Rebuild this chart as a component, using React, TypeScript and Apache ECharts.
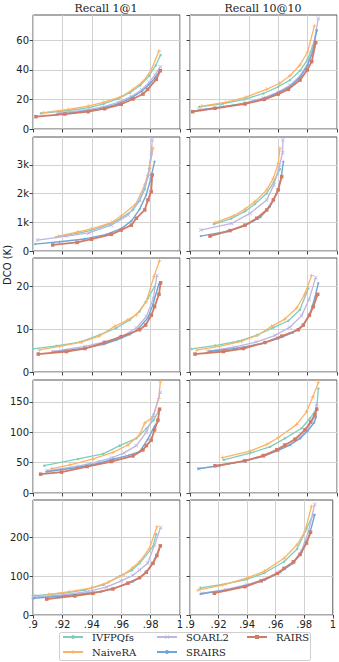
import React, { useEffect, useRef } from 'react';
import * as echarts from 'echarts';

const SERIES_NAMES = ['IVFPQfs', 'NaiveRA', 'SOARL2', 'SRAIRS', 'RAIRS'];
const COLORS = ['#7fcdbb', '#fdb366', '#bdb6df', '#6fa6d6', '#d17a66'];
const COL_TITLES = ['Recall 1@1', 'Recall 10@10'];
const Y_LABEL = 'DCO (K)';
const Y_MAX = [77, 3970, 26.7, 186, 296];
const Y_STEP = [20, 1000, 10, 50, 100];

// Row 1
const r1L_IVF = [[.9054,10.6],[.924,12.5],[.938,14.5],[.948,17],[.958,20.5],[.966,24.5],[.973,29.5],[.979,36],[.9835,43],[.9868,50]];
const r1L_NAIVE = [[.907,11],[.924,13.3],[.9375,15.5],[.9477,18],[.960,21.8],[.968,26.8],[.9748,32],[.9805,40],[.9857,52.7]];
const r1L_SOAR = [[.917,10.8],[.934,12.5],[.947,14.8],[.958,18],[.967,22],[.974,26.5],[.979,31.5],[.983,36.5],[.9866,42]];
const r1L_SRAIRS = [[.916,9.8],[.932,11.5],[.946,13.8],[.958,17],[.967,21],[.974,25.5],[.979,30],[.983,34.5],[.986,38.7]];
const r1L_RAIRS = [[.902,8.3],[.9217,10.1],[.9375,11.7],[.9488,13.7],[.960,16.7],[.968,20.3],[.9748,23.6],[.978,26.8],[.9839,33.6],[.9866,39.4]];

const r1R_IVF = [[.9063,15],[.922,17],[.937,20],[.950,24],[.960,28.5],[.968,33],[.975,39.5],[.980,47],[.9835,56],[.9862,66.4]];
const r1R_NAIVE = [[.908,15.5],[.924,18],[.938,21.5],[.952,26.8],[.961,30.9],[.968,36],[.9748,43.2],[.980,52],[.9846,69.6]];
const r1R_SOAR = [[.906,13],[.922,15],[.937,17.5],[.950,21],[.960,25],[.968,29.5],[.975,36],[.980,44],[.984,56],[.9873,74.8]];
const r1R_SRAIRS = [[.9018,12],[.917,14.2],[.9374,17.2],[.9506,20.5],[.960,24.5],[.968,28.5],[.975,35],[.980,43],[.9835,52],[.9862,67]];
const r1R_RAIRS = [[.9018,11.7],[.917,14],[.9374,16.9],[.9506,20],[.960,23.6],[.9669,26.8],[.9748,33],[.9798,39.9],[.9828,45.5],[.9855,58.3]];

// Row 2
const r2L_IVF = [[.9156,480],[.930,610],[.940,720],[.9533,950],[.960,1150],[.968,1430],[.9725,1750],[.976,2150],[.9785,2650],[.9804,3400]];
const r2L_NAIVE = [[.9172,520],[.9307,670],[.9398,770],[.9533,990],[.960,1220],[.9703,1660],[.976,2300],[.9793,2880],[.9816,3580]];
const r2L_SOAR = [[.903,380],[.9228,520],[.938,630],[.9533,900],[.9646,1250],[.9725,1780],[.9782,2590],[.9805,3400],[.9811,3870]];
const r2L_SRAIRS = [[.9014,240],[.918,320],[.935,420],[.950,580],[.960,780],[.967,1050],[.9725,1450],[.977,1950],[.980,2500],[.9827,3110]];
const r2L_RAIRS = [[.9134,210],[.930,300],[.9398,410],[.9533,580],[.960,730],[.9669,900],[.9703,1140],[.976,1430],[.9782,1780],[.9804,2070],[.9811,2650]];

const r2R_IVF = [[.9163,940],[.928,1130],[.9374,1380],[.9442,1640],[.952,2000],[.957,2400],[.9612,2850]];
const r2R_NAIVE = [[.917,990],[.9295,1220],[.9374,1460],[.9442,1720],[.9522,2130],[.9567,2530],[.960,3050],[.9612,3580]];
const r2R_SOAR = [[.9073,730],[.9283,960],[.9408,1310],[.9522,1780],[.957,2300],[.9605,2900],[.963,3430],[.9632,3870]];
const r2R_SRAIRS = [[.9073,520],[.925,680],[.9374,880],[.948,1180],[.9545,1550],[.959,2000],[.962,2550],[.9635,3110]];
const r2R_RAIRS = [[.9136,520],[.9272,710],[.9374,900],[.9454,1140],[.9522,1430],[.9567,1780],[.960,2130],[.9624,2590]];

// Row 3
const r3L_IVF = [[.900,5.4],[.916,6.1],[.9319,7.0],[.9454,8.7],[.9567,10.3],[.9658,12.2],[.9725,14.2],[.9782,17.3],[.9827,20]];
const r3L_NAIVE = [[.9043,5.2],[.918,6.0],[.933,7.0],[.945,8.4],[.9556,10.7],[.9645,12.2],[.9703,13.4],[.9771,16.5],[.9822,22.3],[.986,26]];
const r3L_SOAR = [[.9138,4.8],[.9354,6.0],[.948,7.0],[.959,8.0],[.9703,10.3],[.9771,13],[.9819,17.3],[.9843,22.6]];
const r3L_SRAIRS = [[.9128,4.6],[.935,5.6],[.948,6.5],[.9567,7.5],[.966,8.8],[.971,9.9],[.9782,12.7],[.9816,15.8],[.9856,20.6]];
const r3L_RAIRS = [[.9036,4.2],[.9228,4.8],[.9353,5.5],[.9488,6.9],[.960,8.3],[.9725,9.9],[.9766,11],[.9805,13.3],[.9827,15.3],[.9857,18.2],[.9868,20.9]];

const r3R_IVF = [[.9011,5.4],[.917,6.2],[.9329,7.2],[.9454,8.6],[.9567,10.4],[.9669,12],[.9748,14.6],[.9805,19.6]];
const r3R_NAIVE = [[.9046,5.1],[.920,6.0],[.935,7.2],[.946,8.6],[.9555,10.7],[.9645,12.4],[.9726,15],[.978,18.2],[.9828,22.6]];
const r3R_SOAR = [[.912,4.9],[.930,5.8],[.945,7.0],[.958,8.6],[.968,10.5],[.9759,13.2],[.981,17],[.9855,22.1]];
const r3R_SRAIRS = [[.9132,4.8],[.932,5.6],[.948,6.6],[.960,7.8],[.970,9.2],[.977,11],[.982,14],[.985,17.5],[.9873,20.8]];
const r3R_RAIRS = [[.9034,4.2],[.9227,4.8],[.9363,5.5],[.951,6.9],[.9624,8.4],[.9737,9.9],[.9771,11],[.9812,13.3],[.9839,15.3],[.9869,18.2]];

// Row 4
const r4L_IVF = [[.9077,45],[.9307,56],[.9477,64.5],[.959,78],[.9703,90],[.9771,106],[.982,120],[.9855,135]];
const r4L_NAIVE = [[.9127,40],[.9251,46.4],[.9409,56],[.9544,67],[.9646,79],[.9725,95.6],[.976,115],[.9816,125.6],[.9856,155.7],[.9866,183]];
const r4L_SOAR = [[.9093,36.6],[.930,44],[.945,52],[.9535,58],[.962,66],[.9703,78],[.9771,100],[.982,128],[.9866,166]];
const r4L_SRAIRS = [[.9093,35],[.930,42],[.945,49],[.955,56],[.965,62],[.9725,68],[.978,88],[.9827,110],[.985,118]];
const r4L_RAIRS = [[.9052,31],[.9194,34.4],[.9368,43.6],[.9533,51.8],[.968,61],[.9748,71],[.9771,78],[.9804,87],[.9827,104],[.985,120],[.9861,138]];

const r4R_IVF = [[.9229,54.6],[.9408,65.6],[.9544,76],[.9646,90],[.9759,106.6],[.9816,123],[.9862,139],[.9873,172]];
const r4R_NAIVE = [[.9222,58.4],[.9408,69],[.9522,80],[.960,91],[.9726,113],[.9794,134],[.9835,158],[.9873,182]];
const r4R_SOAR = [[.906,40],[.920,45],[.937,53],[.950,61],[.960,71],[.968,80],[.975,92],[.980,106],[.9845,124],[.9862,147]];
const r4R_SRAIRS = [[.9056,40],[.920,45],[.937,52.5],[.950,60.5],[.960,70],[.968,79],[.975,90],[.980,102],[.9845,116],[.9858,125]];
const r4R_RAIRS = [[.917,44.8],[.9374,53],[.9499,61.6],[.959,71],[.9646,79],[.9714,88.5],[.9782,104],[.9821,117],[.985,129],[.9862,138]];

// Row 5
const r5L_IVF = [[.9014,50],[.920,56],[.935,64],[.948,78],[.959,100],[.9672,115],[.9725,133],[.9816,176],[.9838,208]];
const r5L_NAIVE = [[.9104,53],[.9251,60],[.9398,70],[.9511,84],[.9612,103],[.968,122],[.9725,137],[.9793,172],[.9843,227]];
const r5L_SOAR = [[.900,46],[.920,52],[.937,60],[.950,72],[.960,88],[.968,102],[.9725,116],[.978,133],[.9827,180],[.9868,225]];
const r5L_SRAIRS = [[.9005,43],[.920,49],[.9465,60],[.960,75],[.968,86],[.9725,96],[.9775,112],[.9816,135],[.9856,168]];
const r5L_RAIRS = [[.9093,41],[.9285,49],[.9408,56],[.9544,67],[.9646,82],[.9725,96],[.9771,110],[.9816,133],[.9843,153],[.9866,178]];

const r5R_IVF = [[.9073,70],[.925,80],[.940,92],[.952,108],[.9658,137],[.975,170],[.9816,223],[.9862,258]];
const r5R_NAIVE = [[.9056,64],[.9227,77],[.9408,96],[.9522,113],[.9658,146],[.9748,180],[.9805,215],[.985,279]];
const r5R_SOAR = [[.9084,56],[.925,65],[.940,78],[.952,92],[.963,112],[.972,135],[.978,165],[.983,215],[.9873,285]];
const r5R_SRAIRS = [[.9073,54],[.925,64],[.940,76],[.952,90],[.963,110],[.972,133],[.978,160],[.9835,205],[.9873,258]];
const r5R_RAIRS = [[.917,56],[.9385,73],[.9499,88],[.9612,107],[.9658,120],[.9726,137],[.9771,156],[.9816,185],[.9844,213]];

const PANELS = [
  [[r1L_IVF, r1L_NAIVE, r1L_SOAR, r1L_SRAIRS, r1L_RAIRS], [r1R_IVF, r1R_NAIVE, r1R_SOAR, r1R_SRAIRS, r1R_RAIRS]],
  [[r2L_IVF, r2L_NAIVE, r2L_SOAR, r2L_SRAIRS, r2L_RAIRS], [r2R_IVF, r2R_NAIVE, r2R_SOAR, r2R_SRAIRS, r2R_RAIRS]],
  [[r3L_IVF, r3L_NAIVE, r3L_SOAR, r3L_SRAIRS, r3L_RAIRS], [r3R_IVF, r3R_NAIVE, r3R_SOAR, r3R_SRAIRS, r3R_RAIRS]],
  [[r4L_IVF, r4L_NAIVE, r4L_SOAR, r4L_SRAIRS, r4L_RAIRS], [r4R_IVF, r4R_NAIVE, r4R_SOAR, r4R_SRAIRS, r4R_RAIRS]],
  [[r5L_IVF, r5L_NAIVE, r5L_SOAR, r5L_SRAIRS, r5L_RAIRS], [r5R_IVF, r5R_NAIVE, r5R_SOAR, r5R_SRAIRS, r5R_RAIRS]],
];

const PLUS = 'path://M-1,-5H1V-1H5V1H1V5H-1V1H-5V-1H-1Z';
const CROSS = 'path://M-4,-3L-3,-4L0,-1L3,-4L4,-3L1,0L4,3L3,4L0,1L-3,4L-4,3L-1,0Z';
const SYMBOLS = ['circle', PLUS, CROSS, 'circle', 'rect'];
const SYMBOL_SIZES = [2.5, 4, 4, 2, 3.5];
const LINE_W = [1.3, 1.3, 1.3, 1.4, 1.8];

const COL_LEFT = [33, 190];
const COL_W = 147;
const ROW_TOP = [15, 137, 258, 380, 500];
const ROW_H = [114, 114, 114, 113, 115];
// legend slots: [left, top] for each series
const LEGEND_POS = [[62, 632], [62, 647], [156, 632], [156, 647], [246, 632]];

const SANS = 'DejaVu Sans';
const SERIF = 'DejaVu Serif';

function fmtX(v: number) {
  const n = Number(v.toFixed(2));
  if (n === 1) return '1';
  return String(n).replace(/^0/, '');
}

export default function App() {
  const ref = useRef<HTMLDivElement>(null);
  useEffect(() => {
    if (!ref.current) return;
    const chart = echarts.init(ref.current, undefined, { renderer: 'svg' });
    const grid: any[] = [];
    const xAxis: any[] = [];
    const yAxis: any[] = [];
    const series: any[] = [];
    for (let r = 0; r < 5; r++) {
      for (let c = 0; c < 2; c++) {
        const gi = r * 2 + c;
        grid.push({
          left: COL_LEFT[c], top: ROW_TOP[r], width: COL_W, height: ROW_H[r],
          show: true, borderColor: '#555', borderWidth: 1, backgroundColor: 'transparent',
        });
        xAxis.push({
          type: 'value', gridIndex: gi, min: 0.9, max: 1.0, interval: 0.02,
          axisLine: { show: false },
          axisTick: { show: true, length: 3.5, lineStyle: { color: '#444' } },
          axisLabel: { show: r === 4, formatter: fmtX, fontFamily: SANS, fontSize: 10, color: '#222', margin: 4, showMinLabel: true, showMaxLabel: true },
          splitLine: { show: true, lineStyle: { color: '#d2d2d2', width: 1 } },
        });
        yAxis.push({
          type: 'value', gridIndex: gi, min: 0, max: Y_MAX[r], interval: Y_STEP[r],
          axisLine: { show: false },
          axisTick: { show: true, length: 3.5, lineStyle: { color: '#444' } },
          axisLabel: {
            show: c === 0, fontFamily: SANS, fontSize: 10, color: '#222', margin: 4,
            showMaxLabel: false,
            formatter: (v: number) => (r === 1 ? (v === 0 ? '0' : v / 1000 + 'k') : String(v)),
          },
          splitLine: { show: true, showMaxLine: false, lineStyle: { color: '#d2d2d2', width: 1 } },
        });
        PANELS[r][c].forEach((data, si) => {
          series.push({
            type: 'line', name: SERIES_NAMES[si], xAxisIndex: gi, yAxisIndex: gi,
            data, color: COLORS[si], symbol: SYMBOLS[si], symbolSize: SYMBOL_SIZES[si],
            showSymbol: true, lineStyle: { width: LINE_W[si], color: COLORS[si] },
            itemStyle: { color: COLORS[si] }, z: 2 + si, silent: true,
          });
        });
      }
    }
    const legend = SERIES_NAMES.map((name, i) => ({
      orient: 'horizontal', itemWidth: 20, itemHeight: 5, itemGap: 4,
      left: LEGEND_POS[i][0], top: LEGEND_POS[i][1], padding: 0,
      textStyle: { fontFamily: SERIF, fontSize: 10, color: '#222', padding: [0, 0, 0, 4] },
      selectedMode: false, z: 10, data: [name],
    }));
    chart.setOption({
      animation: false,
      backgroundColor: '#fff',
      grid, xAxis, yAxis, series, legend,
      graphic: [
        { type: 'rect', z: 5, shape: { x: 59.5, y: 632.5, width: 251, height: 28, r: 2 }, style: { fill: '#fff', stroke: '#cfcfcf', lineWidth: 1 } },
        { type: 'text', x: 106, y: 8, style: { text: COL_TITLES[0], font: `11px "${SERIF}"`, fill: '#222', align: 'center', verticalAlign: 'middle' } },
        { type: 'text', x: 263, y: 8, style: { text: COL_TITLES[1], font: `11px "${SERIF}"`, fill: '#222', align: 'center', verticalAlign: 'middle' } },
        { type: 'text', x: 7, y: 265, rotation: Math.PI / 2, style: { text: Y_LABEL, font: `10px "${SANS}"`, fill: '#222', align: 'center', verticalAlign: 'middle' } },
      ],
    });
    return () => chart.dispose();
  }, []);
  return <div ref={ref} style={{ position: 'absolute', left: 0, top: 0, width: 339, height: 662 }} />;
}
